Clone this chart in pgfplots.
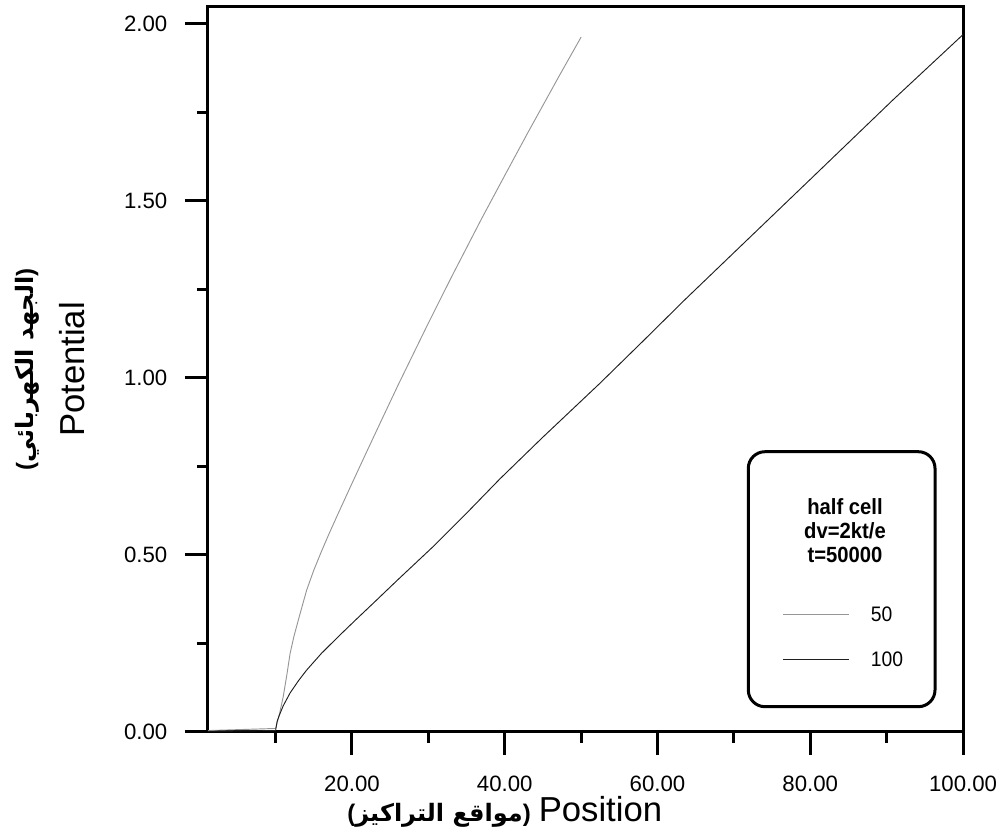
\documentclass[border=0pt]{standalone}
\usepackage{pgfplots}
\pgfplotsset{compat=1.18}
\usepackage{fontspec}
\setmainfont{Liberation Sans}
\newfontfamily\arabicfont[Script=Arabic]{DejaVu Sans}
\newfontfamily\narrowfont[FakeStretch=0.92]{Liberation Sans}
\TeXXeTstate=1
\definecolor{cfifty}{RGB}{150,150,150}
\definecolor{chundred}{RGB}{30,30,30}
\begin{document}
\begin{tikzpicture}
\useasboundingbox (-156pt,-76.5pt) rectangle (596.25pt,549pt);
\begin{axis}[
  scale only axis, width=566.25pt, height=543.75pt,
  xmin=1.15, xmax=100, ymin=0, ymax=2.048,
  axis line style={line width=2.25pt},
  tick style={line width=2.25pt, black},
  major tick length=17.25pt, minor tick length=8.25pt,
  tick align=outside, tick pos=left,
  xtick={20,40,60,80,100}, minor xtick={10,30,50,70,90},
  ytick={0,0.5,1,1.5,2}, minor ytick={0.25,0.75,1.25,1.75},
  /pgf/number format/fixed, /pgf/number format/fixed zerofill,
  /pgf/number format/precision=2, /pgf/number format/assume math mode=true,
  tick label style={font=\fontsize{16.65}{20}\selectfont},
  yticklabel style={xshift=-9.75pt},
  xticklabel style={yshift=-12pt},
  xlabel={{\bfseries\fontsize{18}{20}\selectfont(}{\arabicfont\bfseries\fontsize{18}{20}\selectfont\beginR مواقع التراكيز\endR}{\bfseries\fontsize{18}{20}\selectfont)}\hspace{6pt}{\fontsize{26}{30}\selectfont Position}},
  xlabel style={at={(rel axis cs:0.393,0)}, anchor=base, yshift=-67.5pt},
  ylabel={{\bfseries\fontsize{18}{20}\selectfont(}{\arabicfont\bfseries\fontsize{18}{20}\selectfont\beginR الجهد الكهربائي\endR}{\bfseries\fontsize{18}{20}\selectfont)}\\[14pt]{\fontsize{26}{30}\selectfont Potential}},
  ylabel style={at={(rel axis cs:-0.1629,0.5)}, anchor=south, inner sep=0pt, align=center},
  legend image code/.code={\draw[#1] (0pt,0pt) -- (50pt,0pt);},
  legend cell align=left,
  legend style={at={(rel axis cs:0.7603,0.1313)}, anchor=west, draw=none, fill=none,
    inner sep=0pt, row sep=22.45pt, column sep=15.75pt,
    nodes={inner sep=0pt, text depth=0pt},
    font=\narrowfont\fontsize{15.75}{18}\selectfont},
]
\addplot[color=cfifty, line width=0.7pt] table {
x y
1.15 0.004
10 0.010
10.5 0.05
11 0.10
11.5 0.165
11.9 0.222
12.4 0.27
13 0.318
13.5 0.357
14.07 0.401
15 0.457
16 0.510
17 0.560
18 0.608
19.74 0.690
22 0.795
24 0.887
26.06 0.981
30 1.155
33 1.284
36.97 1.450
40 1.572
43 1.692
47.2 1.856
50 1.963
};
\addlegendentry{50}
\addplot[color=chundred, line width=0.7pt] table {
x y
1.15 0.002
10 0.004
10.2 0.03
10.5 0.048
11 0.074
11.89 0.11
13 0.145
14.07 0.175
16 0.222
18.43 0.274
20.5 0.317
22.8 0.364
26 0.43
30.64 0.524
35 0.618
39.37 0.715
45 0.833
52.46 0.985
58 1.102
63.58 1.221
70 1.354
80 1.561
90.85 1.786
100 1.97
};
\addlegendentry{100}
\draw[line width=2.25pt, rounded corners=12.5pt] (rel axis cs:0.7156,0.0349) rectangle (rel axis cs:0.9629,0.3866);
\node[align=center, font=\narrowfont\bfseries\fontsize{16.5}{18}\selectfont, anchor=center] at (rel axis cs:0.8437,0.2779) {half cell\\dv=2kt/e\\t=50000};
\end{axis}
\end{tikzpicture}
\end{document}
